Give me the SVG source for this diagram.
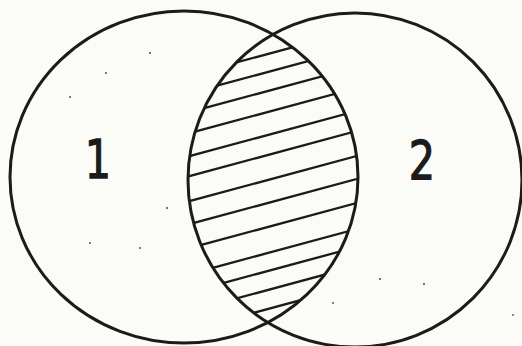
<svg xmlns="http://www.w3.org/2000/svg" width="522" height="346" viewBox="0 0 522 346">
  <style>
    .ring { fill: none; stroke: #1b1b1b; stroke-width: 3; }
    .hatch line { stroke: #1b1b1b; stroke-width: 2.3; stroke-linecap: round; }
    .label { font-family: "DejaVu Sans", "Liberation Sans", sans-serif; font-size: 53px; fill: #1b1b1b; stroke: #1b1b1b; stroke-width: 1.3; text-anchor: middle; }
    .speck { fill: #555; }
  </style>
  <defs>
    <clipPath id="clipLeft"><ellipse cx="184" cy="177" rx="174" ry="166"/></clipPath>
    <clipPath id="clipRight"><ellipse cx="355" cy="180" rx="167" ry="167"/></clipPath>
  </defs>
  <rect width="522" height="346" fill="#fbfbf8"/>
  <g id="intersection" clip-path="url(#clipLeft)">
    <g class="hatch" clip-path="url(#clipRight)">
      <line x1="180" y1="77.7" x2="370" y2="26.4"/>
      <line x1="180" y1="95.7" x2="370" y2="44.4"/>
      <line x1="180" y1="114.7" x2="370" y2="63.4"/>
      <line x1="180" y1="135.7" x2="370" y2="84.4"/>
      <line x1="180" y1="158.7" x2="370" y2="107.4"/>
      <line x1="180" y1="178.7" x2="370" y2="127.4"/>
      <line x1="180" y1="203.7" x2="370" y2="152.4"/>
      <line x1="180" y1="226.7" x2="370" y2="175.4"/>
      <line x1="180" y1="250.7" x2="370" y2="199.4"/>
      <line x1="180" y1="276.7" x2="370" y2="225.4"/>
      <line x1="180" y1="294.7" x2="370" y2="243.4"/>
      <line x1="180" y1="313.7" x2="370" y2="262.4"/>
      <line x1="180" y1="332.7" x2="370" y2="281.4"/>
    </g>
  </g>
  <g id="set1">
    <ellipse class="ring" cx="184" cy="177" rx="174" ry="166"/>
    <text class="label" transform="translate(98,178) scale(0.78,1)">1</text>
  </g>
  <g id="set2">
    <ellipse class="ring" cx="355" cy="180" rx="167" ry="167"/>
    <text class="label" transform="translate(422,179) scale(0.78,1)">2</text>
  </g>
  <g id="specks">
    <circle class="speck" cx="150" cy="53" r="1.1"/>
    <circle class="speck" cx="106" cy="73" r="1"/>
    <circle class="speck" cx="70" cy="97" r="1"/>
    <circle class="speck" cx="167" cy="208" r="1.1"/>
    <circle class="speck" cx="90" cy="243" r="1"/>
    <circle class="speck" cx="140" cy="248" r="1"/>
    <circle class="speck" cx="380" cy="279" r="1.1"/>
    <circle class="speck" cx="424" cy="284" r="1.1"/>
    <circle class="speck" cx="333" cy="303" r="1"/>
    <circle class="speck" cx="513" cy="315" r="0.9"/>
  </g>
</svg>
